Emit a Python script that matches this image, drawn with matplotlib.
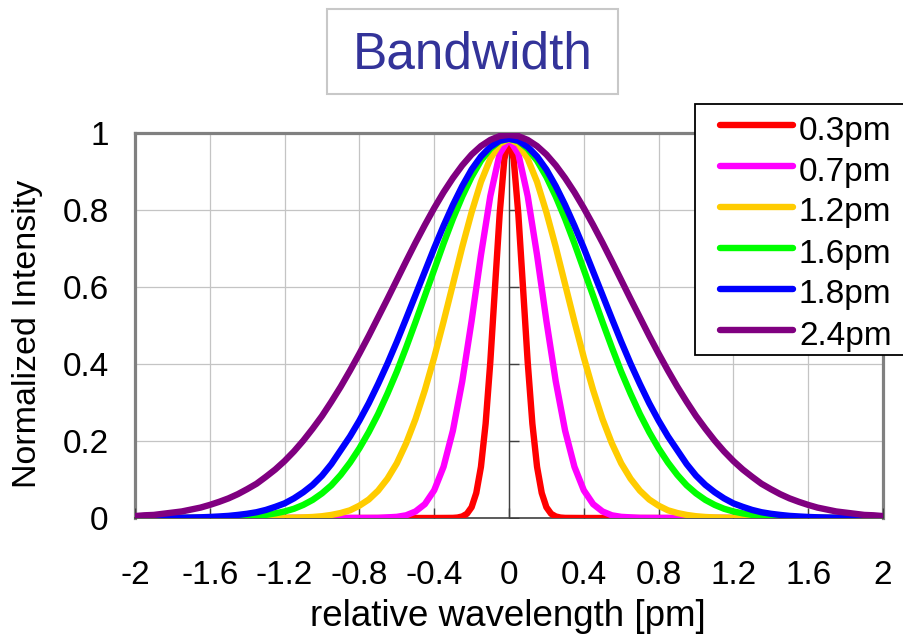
import matplotlib
matplotlib.use('Agg')
import numpy as np
import matplotlib.pyplot as plt
from matplotlib.patches import Rectangle
from matplotlib.lines import Line2D

# ---------------- data ----------------
series_labels = ['0.3pm', '0.7pm', '1.2pm', '1.6pm', '1.8pm', '2.4pm']
series_colors = ['#FF0000', '#FF00FF', '#FFCC00', '#00FF00', '#0000FF', '#800080']

x_fine = [-2.0, -1.95, -1.9, -1.85, -1.8, -1.75, -1.7, -1.65, -1.6, -1.55,
          -1.5, -1.45, -1.4, -1.35, -1.3, -1.25, -1.2, -1.15, -1.1, -1.05,
          -1.0, -0.95, -0.9, -0.85, -0.8, -0.75, -0.7, -0.65, -0.6, -0.55,
          -0.5, -0.45, -0.4, -0.35, -0.3, -0.25, -0.2, -0.15, -0.1, -0.05,
          0.0,
          0.05, 0.1, 0.15, 0.2, 0.25, 0.3, 0.35, 0.4, 0.45, 0.5,
          0.55, 0.6, 0.65, 0.7, 0.75, 0.8, 0.85, 0.9, 0.95, 1.0,
          1.05, 1.1, 1.15, 1.2, 1.25, 1.3, 1.35, 1.4, 1.45, 1.5,
          1.55, 1.6, 1.65, 1.7, 1.75, 1.8, 1.85, 1.9, 1.95, 2.0]

y_24 = [0.005, 0.007, 0.008, 0.011, 0.014, 0.017, 0.022, 0.027, 0.034, 0.042,
        0.051, 0.062, 0.075, 0.089, 0.107, 0.126, 0.148, 0.173, 0.201, 0.232,
        0.265, 0.302, 0.341, 0.383, 0.427, 0.473, 0.521, 0.569, 0.618, 0.667,
        0.715, 0.761, 0.805, 0.846, 0.883, 0.916, 0.944, 0.966, 0.982, 0.992,
        0.995,
        0.992, 0.982, 0.966, 0.944, 0.916, 0.883, 0.846, 0.805, 0.761, 0.715,
        0.667, 0.618, 0.569, 0.521, 0.473, 0.427, 0.383, 0.341, 0.302, 0.265,
        0.232, 0.201, 0.173, 0.148, 0.126, 0.107, 0.089, 0.075, 0.062, 0.051,
        0.042, 0.034, 0.027, 0.022, 0.017, 0.014, 0.011, 0.008, 0.007, 0.005]

y_18 = [0.0001, 0.0001, 0.0002, 0.0003, 0.0005, 0.0008, 0.0012, 0.0018, 0.0027, 0.004,
        0.0055, 0.008, 0.011, 0.015, 0.021, 0.029, 0.038, 0.051, 0.067, 0.086,
        0.110, 0.140, 0.176, 0.212, 0.253, 0.298, 0.348, 0.401, 0.458, 0.518,
        0.579, 0.640, 0.701, 0.759, 0.813, 0.862, 0.905, 0.939, 0.964, 0.980,
        0.985,
        0.980, 0.964, 0.939, 0.905, 0.862, 0.813, 0.759, 0.701, 0.640, 0.579,
        0.518, 0.458, 0.401, 0.348, 0.298, 0.253, 0.212, 0.176, 0.140, 0.110,
        0.086, 0.067, 0.051, 0.038, 0.029, 0.021, 0.015, 0.011, 0.008, 0.0055,
        0.004, 0.0027, 0.0018, 0.0012, 0.0008, 0.0005, 0.0003, 0.0002, 0.0001, 0.0001]

y_16 = [0.0, 0.0, 0.0, 0.0, 0.0, 0.0001, 0.0002, 0.0003, 0.0005, 0.0009,
        0.0014, 0.0022, 0.0035, 0.005, 0.008, 0.012, 0.017, 0.024, 0.034, 0.047,
        0.064, 0.085, 0.112, 0.144, 0.181, 0.223, 0.270, 0.323, 0.380, 0.443,
        0.509, 0.577, 0.645, 0.713, 0.777, 0.835, 0.886, 0.928, 0.959, 0.979,
        0.985,
        0.979, 0.959, 0.928, 0.886, 0.835, 0.777, 0.713, 0.645, 0.577, 0.509,
        0.443, 0.380, 0.323, 0.270, 0.223, 0.181, 0.144, 0.112, 0.085, 0.064,
        0.047, 0.034, 0.024, 0.017, 0.012, 0.008, 0.005, 0.0035, 0.0022, 0.0014,
        0.0009, 0.0005, 0.0003, 0.0002, 0.0001, 0.0, 0.0, 0.0, 0.0, 0.0]

y_12 = [0.0, 0.0, 0.0, 0.0, 0.0, 0.0, 0.0, 0.0, 0.0, 0.0,
        0.0, 0.0, 0.0, 0.0, 0.0001, 0.0002, 0.0004, 0.0008, 0.0015, 0.0026,
        0.0046, 0.008, 0.013, 0.020, 0.032, 0.048, 0.071, 0.102, 0.142, 0.194,
        0.257, 0.332, 0.417, 0.510, 0.607, 0.704, 0.794, 0.873, 0.933, 0.972,
        0.985,
        0.972, 0.933, 0.873, 0.794, 0.704, 0.607, 0.510, 0.417, 0.332, 0.257,
        0.194, 0.142, 0.102, 0.071, 0.048, 0.032, 0.020, 0.013, 0.008, 0.0046,
        0.0026, 0.0015, 0.0008, 0.0004, 0.0002, 0.0001, 0.0, 0.0, 0.0, 0.0,
        0.0, 0.0, 0.0, 0.0, 0.0, 0.0, 0.0, 0.0, 0.0, 0.0]

x_07 = [-2.0, -0.8, -0.7, -0.6, -0.55, -0.5, -0.45, -0.4, -0.35, -0.3, -0.25,
        -0.2, -0.15, -0.1, -0.05, 0.0, 0.05, 0.1, 0.15, 0.2, 0.25,
        0.3, 0.35, 0.4, 0.45, 0.5, 0.55, 0.6, 0.7, 0.8, 2.0]
y_07 = [0.0, 0.0, 0.0003, 0.003, 0.007, 0.017, 0.036, 0.072, 0.133, 0.227, 0.355,
        0.512, 0.683, 0.836, 0.946, 0.985, 0.946, 0.836, 0.683, 0.512, 0.355,
        0.227, 0.133, 0.072, 0.036, 0.017, 0.007, 0.003, 0.0003, 0.0, 0.0]

x_03 = [-2.0, -0.4, -0.3, -0.275, -0.25, -0.225, -0.2, -0.175, -0.15, -0.125,
        -0.1, -0.075, -0.05, -0.025, 0.0, 0.025, 0.05, 0.075, 0.1,
        0.125, 0.15, 0.175, 0.2, 0.225, 0.25, 0.275, 0.3, 0.4, 2.0]
y_03 = [0.0, 0.0, 0.0003, 0.0012, 0.004, 0.011, 0.028, 0.065, 0.133, 0.245,
        0.405, 0.598, 0.789, 0.932, 0.985, 0.932, 0.789, 0.598, 0.405,
        0.245, 0.133, 0.065, 0.028, 0.011, 0.004, 0.0012, 0.0003, 0.0, 0.0]

x_tick_labels = ['-2', '-1.6', '-1.2', '-0.8', '-0.4', '0', '0.4', '0.8', '1.2', '1.6', '2']
y_tick_labels = ['0', '0.2', '0.4', '0.6', '0.8', '1']

# ---------------- figure ----------------
plt.rcParams['font.family'] = ['Liberation Sans', 'DejaVu Sans']

W, H = 904, 637
fig = plt.figure(figsize=(W / 100, H / 100), dpi=100)
ax = fig.add_axes([135 / W, 1 - 518 / H, 748 / W, 385 / H])

x_ticks = [float(s) for s in x_tick_labels]
y_ticks = [float(s) for s in y_tick_labels]

ax.set_xlim(-2, 2)
ax.set_ylim(0, 1)
ax.set_xticks(x_ticks)
ax.set_yticks(y_ticks)
ax.set_xticklabels(x_tick_labels, fontsize=24)
ax.set_yticklabels(y_tick_labels, fontsize=24)
ax.tick_params(axis='both', length=0)
ax.tick_params(axis='y', pad=19)
ax.tick_params(axis='x', pad=30)
ax.grid(True, color='#C4C4C4', linewidth=0.9)
ax.set_axisbelow(True)

for side in ['top', 'left', 'right']:
    ax.spines[side].set_color('#808080')
    ax.spines[side].set_linewidth(2.3)
ax.spines['bottom'].set_color('#404040')
ax.spines['bottom'].set_linewidth(1.2)
ax.spines['bottom'].set_zorder(2.6)

# axis line through x = 0 with its tick marks
ax.axvline(0, color='#404040', linewidth=1.0, zorder=2.6)
ax.plot(np.zeros(len(y_ticks)), y_ticks, linestyle='none', marker=1,
        markersize=7, markeredgewidth=1.0, color='#404040', zorder=2.6)
ax.plot(x_ticks, np.zeros(len(x_ticks)), linestyle='none', marker=2,
        markersize=7, markeredgewidth=1.0, color='#404040', zorder=2.6)

LW = 4.6
xs = [x_03, x_07, x_fine, x_fine, x_fine, x_fine]
ys = [y_03, y_07, y_12, y_16, y_18, y_24]
for i, (xv, yv, lab, col) in enumerate(zip(xs, ys, series_labels, series_colors)):
    ax.plot(xv, yv, color=col, linewidth=LW, label=lab,
            solid_joinstyle='round', solid_capstyle='round', zorder=3 + i)

# legend (box runs off the right edge as in the original)
fig.add_artist(Rectangle((695 / W, 1 - 355 / H), 260 / W, 251 / H,
                         transform=fig.transFigure, facecolor='white',
                         edgecolor='black', linewidth=1.3, zorder=10))
for i, (lab, col) in enumerate(zip(series_labels, series_colors)):
    yy = 125 + 41 * i
    fig.add_artist(Line2D([720 / W, 793 / W], [1 - yy / H, 1 - yy / H],
                          transform=fig.transFigure, color=col, linewidth=LW,
                          solid_capstyle='round', zorder=11))
    fig.text(799 / W, 1 - (yy + 14.5) / H, lab, fontsize=24,
             ha='left', va='baseline', zorder=11)

# title box
fig.add_artist(Rectangle((327 / W, 1 - 94 / H), 291 / W, 85 / H,
                         transform=fig.transFigure, fill=False,
                         edgecolor='#C8C8C8', linewidth=1.5))
fig.text(472.5 / W, 1 - 68.5 / H, 'Bandwidth', fontsize=37, color='#333399',
         ha='center', va='baseline')

fig.text(508 / W, 1 - 617 / H, 'relative wavelength [pm]', fontsize=26.5,
         ha='center', va='center')
fig.text(28 / W, 1 - 334 / H, 'Normalized Intensity', fontsize=24.5,
         rotation=90, ha='center', va='center')

fig.savefig('out.png', dpi=100)
